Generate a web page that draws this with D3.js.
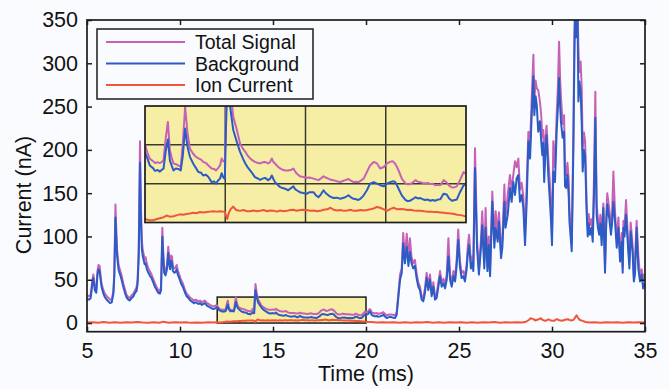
<!DOCTYPE html>
<html>
<head>
<meta charset="utf-8">
<script src="https://cdn.jsdelivr.net/npm/d3@7"></script>
<style>
  html, body { margin: 0; padding: 0; background: #fafbfe; }
  svg { display: block; font-family: "Liberation Sans", Arial, sans-serif; }
</style>
</head>
<body>
<div id="chart"></div>
<script>
// values: [time (ms), current (nA)]
const totalSignal = [
  [5.0,32],[5.1,31],[5.2,33],[5.28,48],[5.34,56],[5.42,42],[5.5,39],[5.56,60],[5.62,67],[5.68,66],
  [5.72,57],[5.78,46],[5.88,38],[5.96,34],[6.1,30],[6.24,27],[6.33,27],[6.42,37],[6.47,60],[6.53,137],
  [6.58,105],[6.62,84],[6.7,67],[6.78,61],[6.86,55],[6.95,46],[7.04,39],[7.12,33],[7.22,30],[7.3,29],
  [7.4,32],[7.5,34],[7.58,38],[7.66,41],[7.72,50],[7.78,85],[7.85,210],[7.9,135],[7.95,95],[8.0,84],
  [8.1,74],[8.15,76],[8.22,68],[8.3,63],[8.4,59],[8.47,56],[8.56,51],[8.65,46],[8.75,41],[8.83,38],
  [8.92,37],[8.98,42],[9.05,110],[9.1,82],[9.15,63],[9.22,60],[9.3,67],[9.37,88],[9.42,74],[9.47,67],
  [9.52,78],[9.57,77],[9.62,65],[9.7,63],[9.76,64],[9.82,67],[9.88,61],[9.96,56],[10.05,50],[10.15,46],
  [10.27,38],[10.36,34],[10.45,32],[10.55,29],[10.63,28],[10.75,26],[10.85,27],[10.99,25],[11.08,26],[11.16,24],
  [11.25,25],[11.34,26],[11.45,23],[11.55,22],[11.7,20],[11.8,19],[11.9,20],[11.96,20.5],
  [12.0,20],[12.06,18],[12.12,16.4],[12.2,15.8],[12.25,15.3],[12.32,15.5],[12.37,15.3],[12.42,15.6],[12.46,16],[12.52,22],
  [12.57,25.9],[12.62,18.6],[12.67,16.5],[12.71,15.2],[12.77,15],[12.83,14.7],[12.89,14.3],[12.94,20],[13.0,29.8],[13.06,23],
  [13.12,19],[13.2,17.7],[13.26,17],[13.33,16.5],[13.4,16.2],[13.45,15.6],[13.52,15.3],[13.58,14.7],[13.66,13.9],[13.72,13.8],
  [13.77,13.4],[13.82,14],[13.87,14.7],[13.91,16.5],[13.95,15.8],[13.99,15.6],[14.02,30],[14.06,45],[14.12,35],[14.2,27.2],
  [14.29,23.8],[14.37,20.3],[14.44,19],[14.5,18.2],[14.56,17.2],[14.62,16.5],[14.68,16],[14.74,15.6],[14.8,15.4],[14.87,15.2],
  [14.93,15.5],[14.99,15.6],[15.07,15.2],[15.12,15.6],[15.16,16.5],[15.2,15.6],[15.24,15.2],[15.3,14.5],[15.37,13.9],[15.43,13.6],
  [15.49,13.4],[15.57,13.4],[15.63,13.5],[15.7,13.9],[15.74,13.2],[15.78,12.6],[15.86,11.9],[15.94,11.7],[16.03,11.5],[16.1,11.6],
  [16.2,11.3],[16.26,11.1],[16.32,10.9],[16.38,11.3],[16.45,11.9],[16.5,11.6],[16.57,11.3],[16.63,11],[16.7,10.9],[16.78,10.6],
  [16.87,10.4],[16.93,10.7],[16.99,10.9],[17.07,11.2],[17.13,10.8],[17.2,10.4],[17.26,10.5],[17.32,10.4],[17.38,10.8],[17.45,11.3],
  [17.53,13],[17.61,14.7],[17.7,15.6],[17.78,15.2],[17.86,13.9],[17.95,14.3],[18.03,15.2],[18.11,15.6],[18.17,15.8],[18.23,15.2],
  [18.28,14.3],[18.32,13.4],[18.4,11.3],[18.49,10.1],[18.55,9.8],[18.6,9.9],[18.67,10.3],[18.74,10.9],[18.8,10.5],[18.86,10.4],
  [18.92,10.2],[18.98,10.1],[19.05,10.2],[19.11,9.9],[19.17,10],[19.23,9.6],[19.3,9.7],[19.36,9.6],[19.44,10.9],[19.52,10.3],
  [19.58,9.5],[19.65,9],[19.72,9.1],[19.77,9.3],[19.85,10.9],[19.94,13],[20.0,12.5],
  [20.04,12.5],[20.12,13.5],[20.2,16],[20.25,15],[20.32,12],[20.4,11.5],[20.48,11],[20.58,11.5],[20.66,10.5],[20.75,11],
  [20.85,11.5],[20.93,12.5],[21.02,10.5],[21.11,9],[21.2,9.5],[21.3,10],[21.38,9.8],[21.47,9.4],[21.56,9],[21.65,12.5],
  [21.74,34],[21.83,56],[21.92,63],[22.0,104],[22.09,76],[22.19,103],[22.28,73],[22.36,98],[22.45,76],[22.54,69],
  [22.63,73],[22.72,58],[22.81,47],[22.9,42],[22.99,31],[23.08,29],[23.17,40],[23.26,58],[23.35,43],[23.44,56],
  [23.53,35],[23.62,47],[23.71,31],[23.8,33],[23.89,47],[23.98,60],[24.07,47],[24.16,51],[24.25,45],[24.34,56],
  [24.43,98],[24.52,56],[24.61,47],[24.7,60],[24.79,53],[24.87,72],[24.96,108],[25.05,72],[25.14,58],[25.23,60],
  [25.32,53],[25.41,68],[25.48,90],[25.54,102],[25.64,70],[25.72,77],[25.77,66],[25.86,202],[25.97,96],[26.07,62],
  [26.18,96],[26.25,129],[26.36,70],[26.43,133],[26.53,66],[26.6,100],[26.67,60],[26.79,152],[26.9,96],[26.97,129],
  [27.08,104],[27.15,128],[27.26,83],[27.33,96],[27.44,160],[27.5,121],[27.62,148],[27.74,171],[27.83,154],[27.92,171],
  [28.01,187],[28.1,180],[28.19,190],[28.28,154],[28.37,162],[28.46,146],[28.55,100],[28.64,160],[28.73,221],[28.82,205],
  [28.91,260],[29.0,310],[29.05,256],[29.12,280],[29.18,271],[29.26,269],[29.35,256],[29.42,240],[29.48,215],[29.53,223],
  [29.58,180],[29.65,215],[29.71,228],[29.8,190],[29.89,160],[29.95,130],[30.0,100],[30.07,210],[30.16,180],[30.25,240],
  [30.32,275],[30.38,325],[30.44,280],[30.48,262],[30.57,230],[30.65,240],[30.7,175],[30.76,170],[30.83,185],[30.9,165],
  [30.94,130],[31.0,110],[31.06,92],[31.15,220],[31.2,330],[31.24,370],[31.3,360],[31.37,370],[31.42,318],[31.47,290],
  [31.54,302],[31.6,270],[31.65,202],[31.72,220],[31.78,210],[31.86,140],[31.92,110],[31.97,126],[32.04,113],[32.12,120],
  [32.19,103],[32.26,170],[32.33,267],[32.4,137],[32.47,120],[32.54,112],[32.6,125],[32.67,99],[32.76,138],[32.85,64],
  [32.91,120],[32.97,150],[33.03,140],[33.08,132],[33.17,112],[33.23,126],[33.3,175],[33.39,128],[33.48,95],[33.57,122],
  [33.66,78],[33.75,104],[33.8,64],[33.84,118],[33.9,110],[33.98,142],[34.07,103],[34.16,70],[34.23,116],[34.3,99],
  [34.34,87],[34.4,54],[34.46,71],[34.55,118],[34.64,79],[34.73,54],[34.82,62],[34.9,48],[34.94,56],[35.0,50]
];

const background = [
  [5.0,28],[5.1,27],[5.2,29],[5.28,44],[5.34,52],[5.42,38],[5.5,35],[5.56,55],[5.62,62],[5.68,60],
  [5.72,52],[5.78,42],[5.88,34],[5.96,30],[6.1,26],[6.24,23],[6.33,24],[6.42,34],[6.47,55],[6.53,122],
  [6.58,95],[6.62,77],[6.7,61],[6.78,56],[6.86,50],[6.95,42],[7.04,35],[7.12,30],[7.22,27],[7.3,26],
  [7.4,29],[7.5,31],[7.58,35],[7.66,37],[7.72,45],[7.78,75],[7.85,185],[7.9,120],[7.95,85],[8.0,77],
  [8.1,68],[8.15,69],[8.22,62],[8.3,58],[8.4,54],[8.47,52],[8.56,47],[8.65,42],[8.75,38],[8.83,35],
  [8.92,34],[8.98,38],[9.05,100],[9.1,75],[9.15,58],[9.22,55],[9.3,62],[9.37,81],[9.42,68],[9.47,62],
  [9.52,72],[9.57,70],[9.62,60],[9.7,58],[9.76,59],[9.82,62],[9.88,56],[9.96,52],[10.05,46],[10.15,42],
  [10.27,35],[10.36,31],[10.45,29],[10.55,26],[10.63,25],[10.75,23],[10.85,24],[10.99,22],[11.08,23],[11.16,21],
  [11.25,22],[11.34,23],[11.45,20],[11.55,19],[11.7,17],[11.8,16],[11.9,17],[11.96,18],
  [12.0,18],[12.06,16.5],[12.12,14.7],[12.2,14],[12.25,13.3],[12.32,13.5],[12.37,13.1],[12.42,13.6],[12.46,13.8],[12.52,18.6],
  [12.57,21.4],[12.62,16],[12.67,14.5],[12.71,13.4],[12.77,13.9],[12.83,13.8],[12.89,13.4],[12.94,17],[13.0,24.2],[13.06,19.5],
  [13.12,16.9],[13.2,15.2],[13.26,14.2],[13.33,13],[13.4,12.8],[13.45,12.1],[13.52,12.3],[13.58,11.7],[13.66,10.4],[13.72,10.6],
  [13.77,10],[13.82,10.8],[13.87,11.3],[13.91,12.7],[13.95,11.6],[13.99,11.3],[14.02,25],[14.06,38],[14.12,30],[14.2,23.8],
  [14.29,20.7],[14.37,18.2],[14.44,16.5],[14.5,15.2],[14.56,14.2],[14.62,13.4],[14.68,12.6],[14.74,11.7],[14.8,11.4],[14.87,11],
  [14.93,11.3],[14.99,11.5],[15.07,10.9],[15.12,11.3],[15.16,12.1],[15.2,11.2],[15.24,10.4],[15.3,9.8],[15.37,9.1],[15.43,8.9],
  [15.49,8.7],[15.57,8.3],[15.63,8.8],[15.7,9.3],[15.74,8.6],[15.78,8.3],[15.86,7.8],[15.94,7.6],[16.03,7.4],[16.1,7.8],
  [16.2,7.8],[16.26,7.0],[16.32,6.5],[16.38,7.2],[16.45,8.3],[16.5,7.6],[16.57,7],[16.63,6.6],[16.7,6.3],[16.78,6.4],
  [16.87,6.1],[16.93,6.3],[16.99,6.5],[17.07,7],[17.13,6.5],[17.2,6.1],[17.26,6.0],[17.32,5.8],[17.38,6.2],[17.45,7],
  [17.53,8.3],[17.61,10],[17.7,10.4],[17.78,10],[17.86,9.6],[17.95,9.3],[18.03,10],[18.11,10.4],[18.17,10.6],[18.23,10.5],
  [18.28,9.6],[18.32,8.7],[18.4,7],[18.49,5.8],[18.55,5.5],[18.6,5.6],[18.67,6],[18.74,6.5],[18.8,6.2],[18.86,6.3],
  [18.92,6],[18.98,5.8],[19.05,5.9],[19.11,5.6],[19.17,5.8],[19.23,5.6],[19.3,5.9],[19.36,6],[19.44,7.4],[19.52,7.2],
  [19.58,6.2],[19.65,5.6],[19.72,5.8],[19.77,5.9],[19.85,7.8],[19.94,9.6],[20.0,9.8],
  [20.04,9.6],[20.12,10.5],[20.2,13.4],[20.25,12],[20.32,9],[20.4,8.5],[20.48,7.7],[20.58,8.2],[20.66,7.2],[20.75,7.7],
  [20.85,8.4],[20.93,9.6],[21.02,7.5],[21.11,5.8],[21.2,6.5],[21.3,7.2],[21.38,6.7],[21.47,6.2],[21.56,5.8],[21.65,9.6],
  [21.74,30],[21.83,50],[21.92,57.7],[22.0,92],[22.09,69],[22.19,88],[22.28,66],[22.36,82],[22.45,69],[22.54,63],
  [22.63,66],[22.72,52],[22.81,42],[22.9,38],[22.99,27],[23.08,25],[23.17,35],[23.26,52],[23.35,38],[23.44,50],
  [23.53,31],[23.62,42],[23.71,27],[23.8,29],[23.89,42],[23.98,54],[24.07,42],[24.16,46],[24.25,40],[24.34,50],
  [24.43,77],[24.52,50],[24.61,42],[24.7,54],[24.79,48],[24.87,65],[24.96,96],[25.05,65],[25.14,52],[25.23,54],
  [25.32,48],[25.41,62],[25.48,82],[25.54,90],[25.64,63],[25.72,70],[25.77,60],[25.86,179],[25.97,87],[26.07,56],
  [26.18,87],[26.25,113],[26.36,63],[26.43,110],[26.53,60],[26.6,90],[26.67,54],[26.79,140],[26.9,87],[26.97,110],
  [27.08,94],[27.15,117],[27.26,75],[27.33,87],[27.44,140],[27.5,110],[27.62,125],[27.74,156],[27.83,140],[27.92,163],
  [28.01,148],[28.1,167],[28.19,171],[28.28,140],[28.37,148],[28.46,133],[28.55,90],[28.64,140],[28.73,210],[28.82,190],
  [28.91,240],[29.0,285],[29.05,240],[29.12,262],[29.18,252],[29.26,221],[29.35,233],[29.42,210],[29.48,194],[29.53,208],
  [29.58,163],[29.65,200],[29.71,217],[29.8,171],[29.89,140],[29.95,117],[30.0,90],[30.07,175],[30.16,163],[30.25,221],
  [30.32,250],[30.38,283],[30.44,250],[30.48,233],[30.57,214],[30.65,221],[30.7,158],[30.76,156],[30.83,171],[30.9,146],
  [30.94,117],[31.0,100],[31.06,83],[31.15,202],[31.2,300],[31.24,360],[31.3,330],[31.37,360],[31.42,256],[31.47,279],
  [31.54,267],[31.6,229],[31.65,175],[31.72,200],[31.78,194],[31.86,129],[31.92,100],[31.97,115],[32.04,102],[32.12,110],
  [32.19,94],[32.26,150],[32.33,237],[32.4,125],[32.47,110],[32.54,102],[32.6,115],[32.67,90],[32.76,133],[32.85,58],
  [32.91,110],[32.97,137],[33.03,128],[33.08,121],[33.17,102],[33.23,115],[33.3,140],[33.39,117],[33.48,87],[33.57,110],
  [33.66,71],[33.75,94],[33.8,58],[33.84,110],[33.9,100],[33.98,125],[34.07,94],[34.16,63],[34.23,106],[34.3,90],
  [34.34,79],[34.4,48],[34.46,56],[34.55,110],[34.64,63],[34.73,48],[34.82,56],[34.9,40],[34.94,45],[35.0,42]
];

const ionCurrent = [
  [5.0,0.5],[5.3,0.9],[5.6,0.3],[5.9,1.1],[6.2,0.4],[6.5,0.8],[6.8,0.2],[7.1,0.9],[7.4,0.5],[7.7,1.3],
  [8.0,0.6],[8.3,0.2],[8.6,0.8],[8.9,0.4],[9.1,1.6],[9.4,0.4],[9.7,0.9],[10.0,0.5],[10.3,1.0],[10.6,0.2],
  [10.9,0.7],[11.2,0.4],[11.5,0.9],[11.8,0.5],
  [12.0,0.9],[12.1,0.6],[12.2,0.6],[12.3,0.9],[12.37,1.1],[12.45,1.3],[12.54,1.8],[12.62,1.5],[12.71,1.6],[12.8,1.9],
  [12.87,2.1],[12.95,2.0],[13.04,2.2],[13.12,2.3],[13.2,2.5],[13.28,2.4],[13.37,2.7],[13.45,2.6],[13.54,2.7],[13.62,2.8],
  [13.7,2.9],[13.78,2.8],[13.87,2.9],[13.95,2.8],[13.99,2.7],[14.03,1.5],[14.05,0.9],[14.09,2.5],[14.14,3.5],[14.2,4.1],
  [14.26,3.3],[14.32,3.1],[14.37,3.0],[14.45,3.2],[14.54,2.9],[14.62,2.9],[14.7,3.1],[14.79,2.9],[14.87,3.0],[14.95,3.2],
  [15.04,2.9],[15.12,3.1],[15.2,3.0],[15.29,2.8],[15.37,3.1],[15.45,2.9],[15.54,3.0],[15.62,3.2],[15.7,3.3],[15.78,3.0],
  [15.87,3.2],[15.95,3.3],[16.03,3.2],[16.12,3.0],[16.2,3.1],[16.29,2.9],[16.37,3.0],[16.45,3.3],[16.54,3.4],[16.62,3.8],
  [16.7,3.3],[16.79,3.1],[16.87,3.2],[16.95,3.0],[17.04,3.1],[17.12,3.3],[17.2,3.0],[17.28,3.0],[17.37,3.2],[17.45,3.1],
  [17.53,3.2],[17.62,3.4],[17.7,3.6],[17.78,4.0],[17.86,3.8],[17.95,3.4],[18.03,3.0],[18.12,3.5],[18.2,3.8],[18.28,3.4],
  [18.37,3.5],[18.45,3.4],[18.54,3.2],[18.62,3.3],[18.7,3.1],[18.79,3.0],[18.87,3.0],[18.95,2.9],[19.03,2.8],[19.12,2.8],
  [19.2,2.7],[19.28,2.7],[19.36,2.6],[19.45,2.5],[19.53,2.4],[19.62,2.3],[19.7,2.2],[19.78,2.0],[19.87,1.9],[19.95,1.7],
  [20.0,1.6],
  [20.3,1.2],[20.6,0.7],[20.9,1.0],[21.2,0.5],[21.5,0.9],[21.8,0.4],[22.1,0.8],[22.4,0.3],[22.7,0.9],[23.0,0.5],
  [23.3,1.1],[23.6,0.4],[23.9,0.8],[24.2,0.3],[24.5,0.9],[24.8,0.5],[25.1,1.0],[25.4,0.4],[25.7,0.8],[26.0,0.3],
  [26.3,0.9],[26.6,0.5],[26.9,1.1],[27.2,0.4],[27.5,0.8],[27.8,0.5],[28.1,1.0],[28.4,0.6],[28.6,1.5],[28.75,3.5],
  [28.85,5.5],[29.0,4.5],[29.1,3],[29.25,4],[29.4,5.5],[29.5,3.5],[29.65,2.5],[29.8,4.2],[29.95,3],[30.1,2.5],
  [30.25,4.5],[30.4,3.2],[30.55,2.6],[30.7,3.8],[30.85,4.4],[31.0,3],[31.15,3.5],[31.25,6.5],[31.32,9],[31.4,6],
  [31.5,3.5],[31.65,2.5],[31.8,1.2],[32.0,0.6],[32.3,0.9],[32.6,0.4],[32.9,0.8],[33.2,0.5],[33.5,0.9],[33.8,0.4],
  [34.1,0.8],[34.4,0.5],[34.7,0.9],[35.0,0.6]
];

const xTicks = [5, 10, 15, 20, 25, 30, 35];
const yTicks = [0, 50, 100, 150, 200, 250, 300, 350];
const insetXGrid = [14, 16, 18];
const insetYGrid = [10, 20];
const seriesNames = ["Total Signal", "Background", "Ion Current"];

const width = 669, height = 389;
const colors = { total: "#c562b6", background: "#2b5cc6", ion: "#f1563a" };
const yellow = "#f7eea6";
const ink = "#1c1c1c";
const fontSize = 21.5;

const svg = d3.select("#chart").append("svg")
  .attr("width", width).attr("height", height)
  .attr("viewBox", `0 0 ${width} ${height}`);

svg.append("rect").attr("width", width).attr("height", height).attr("fill", "#fafbfe");

// main plot scales
const x = d3.scaleLinear().domain([5, 35]).range([87, 645]);
const y = d3.scaleLinear().domain([-10, 350]).range([331.7, 20]);

const defs = svg.append("defs");
defs.append("clipPath").attr("id", "clip-main").append("rect")
  .attr("x", x(5)).attr("y", y(350)).attr("width", x(35) - x(5)).attr("height", y(-10) - y(350));

// zoom region marker (12-20 ms, 0-30 nA)
svg.append("rect")
  .attr("x", x(12)).attr("y", y(30))
  .attr("width", x(20) - x(12)).attr("height", y(0) - y(30))
  .attr("fill", yellow).attr("stroke", ink).attr("stroke-width", 1.5);

const line = d3.line().x(d => x(d[0])).y(d => y(d[1]));
const main = svg.append("g").attr("clip-path", "url(#clip-main)");
main.append("path").datum(totalSignal).attr("d", line)
  .attr("fill", "none").attr("stroke", colors.total).attr("stroke-width", 2).attr("stroke-linejoin", "round");
main.append("path").datum(background).attr("d", line)
  .attr("fill", "none").attr("stroke", colors.background).attr("stroke-width", 2).attr("stroke-linejoin", "round");
main.append("path").datum(ionCurrent).attr("d", line)
  .attr("fill", "none").attr("stroke", colors.ion).attr("stroke-width", 2).attr("stroke-linejoin", "round");

// axes with inward ticks
const styleAxis = g => {
  g.select(".domain").remove();
  g.selectAll(".tick line").attr("stroke", ink).attr("stroke-width", 1.5);
  g.selectAll(".tick text").attr("fill", "#111").attr("font-size", fontSize);
};
svg.append("g").attr("transform", `translate(0,${y(-10)})`)
  .call(d3.axisBottom(x).tickValues(xTicks).tickSize(-5).tickPadding(11))
  .call(styleAxis);
svg.append("g").attr("transform", `translate(0,${y(350)})`)
  .call(d3.axisTop(x).tickValues(xTicks).tickSize(-5).tickFormat(""))
  .call(styleAxis);
svg.append("g").attr("transform", `translate(${x(5)},0)`)
  .call(d3.axisLeft(y).tickValues(yTicks).tickSize(-5).tickPadding(9))
  .call(styleAxis);
svg.append("g").attr("transform", `translate(${x(35)},0)`)
  .call(d3.axisRight(y).tickValues(yTicks).tickSize(-5).tickFormat(""))
  .call(styleAxis);

svg.append("rect")
  .attr("x", x(5)).attr("y", y(350)).attr("width", x(35) - x(5)).attr("height", y(-10) - y(350))
  .attr("fill", "none").attr("stroke", ink).attr("stroke-width", 1.7);

svg.append("text").attr("x", (x(5) + x(35)) / 2).attr("y", 381)
  .attr("text-anchor", "middle").attr("font-size", fontSize).attr("fill", "#111").text("Time (ms)");
svg.append("text").attr("transform", "translate(31,195) rotate(-90)")
  .attr("text-anchor", "middle").attr("font-size", fontSize).attr("fill", "#111").text("Current (nA)");

// inset: zoom of 12-20 ms
const xi = d3.scaleLinear().domain([12, 20]).range([145, 466]);
const yi = d3.scaleLinear().domain([0, 30]).range([222.5, 106]);
defs.append("clipPath").attr("id", "clip-inset").append("rect")
  .attr("x", xi(12)).attr("y", yi(30)).attr("width", xi(20) - xi(12)).attr("height", yi(0) - yi(30));

const inset = svg.append("g");
inset.append("rect")
  .attr("x", xi(12)).attr("y", yi(30)).attr("width", xi(20) - xi(12)).attr("height", yi(0) - yi(30))
  .attr("fill", yellow);
inset.selectAll("line.gx").data(insetXGrid).join("line").attr("class", "gx")
  .attr("x1", d => xi(d)).attr("x2", d => xi(d)).attr("y1", yi(0)).attr("y2", yi(30))
  .attr("stroke", "#3a3a30").attr("stroke-width", 1.5);
inset.selectAll("line.gy").data(insetYGrid).join("line").attr("class", "gy")
  .attr("x1", xi(12)).attr("x2", xi(20)).attr("y1", d => yi(d)).attr("y2", d => yi(d))
  .attr("stroke", "#3a3a30").attr("stroke-width", 1.5);

const lineIn = d3.line().x(d => xi(d[0])).y(d => yi(d[1]));
const inRange = d => d[0] >= 11.9 && d[0] <= 20.1;
const insetLines = inset.append("g").attr("clip-path", "url(#clip-inset)");
insetLines.append("path").datum(totalSignal.filter(inRange)).attr("d", lineIn)
  .attr("fill", "none").attr("stroke", colors.total).attr("stroke-width", 2).attr("stroke-linejoin", "round");
insetLines.append("path").datum(background.filter(inRange)).attr("d", lineIn)
  .attr("fill", "none").attr("stroke", colors.background).attr("stroke-width", 2).attr("stroke-linejoin", "round");
insetLines.append("path").datum(ionCurrent.filter(inRange)).attr("d", lineIn)
  .attr("fill", "none").attr("stroke", colors.ion).attr("stroke-width", 2).attr("stroke-linejoin", "round");

inset.append("rect")
  .attr("x", xi(12)).attr("y", yi(30)).attr("width", xi(20) - xi(12)).attr("height", yi(0) - yi(30))
  .attr("fill", "none").attr("stroke", ink).attr("stroke-width", 1.7);

// legend (rows kept a little apart so the labels do not touch)
const legend = svg.append("g").attr("transform", "translate(97,29)");
legend.append("rect").attr("width", 216).attr("height", 70)
  .attr("fill", "#fafbfe").attr("stroke", ink).attr("stroke-width", 1.5);
const legendColors = [colors.total, colors.background, colors.ion];
const item = legend.selectAll("g.item").data(seriesNames).join("g").attr("class", "item")
  .attr("transform", (d, i) => `translate(0,${13 + i * 21.5})`);
item.append("line").attr("x1", 9).attr("x2", 88)
  .attr("stroke", (d, i) => legendColors[i]).attr("stroke-width", 2);
item.append("text").attr("x", 98).attr("y", 7).attr("font-size", 19.5).attr("fill", "#111").text(d => d);
</script>
</body>
</html>
